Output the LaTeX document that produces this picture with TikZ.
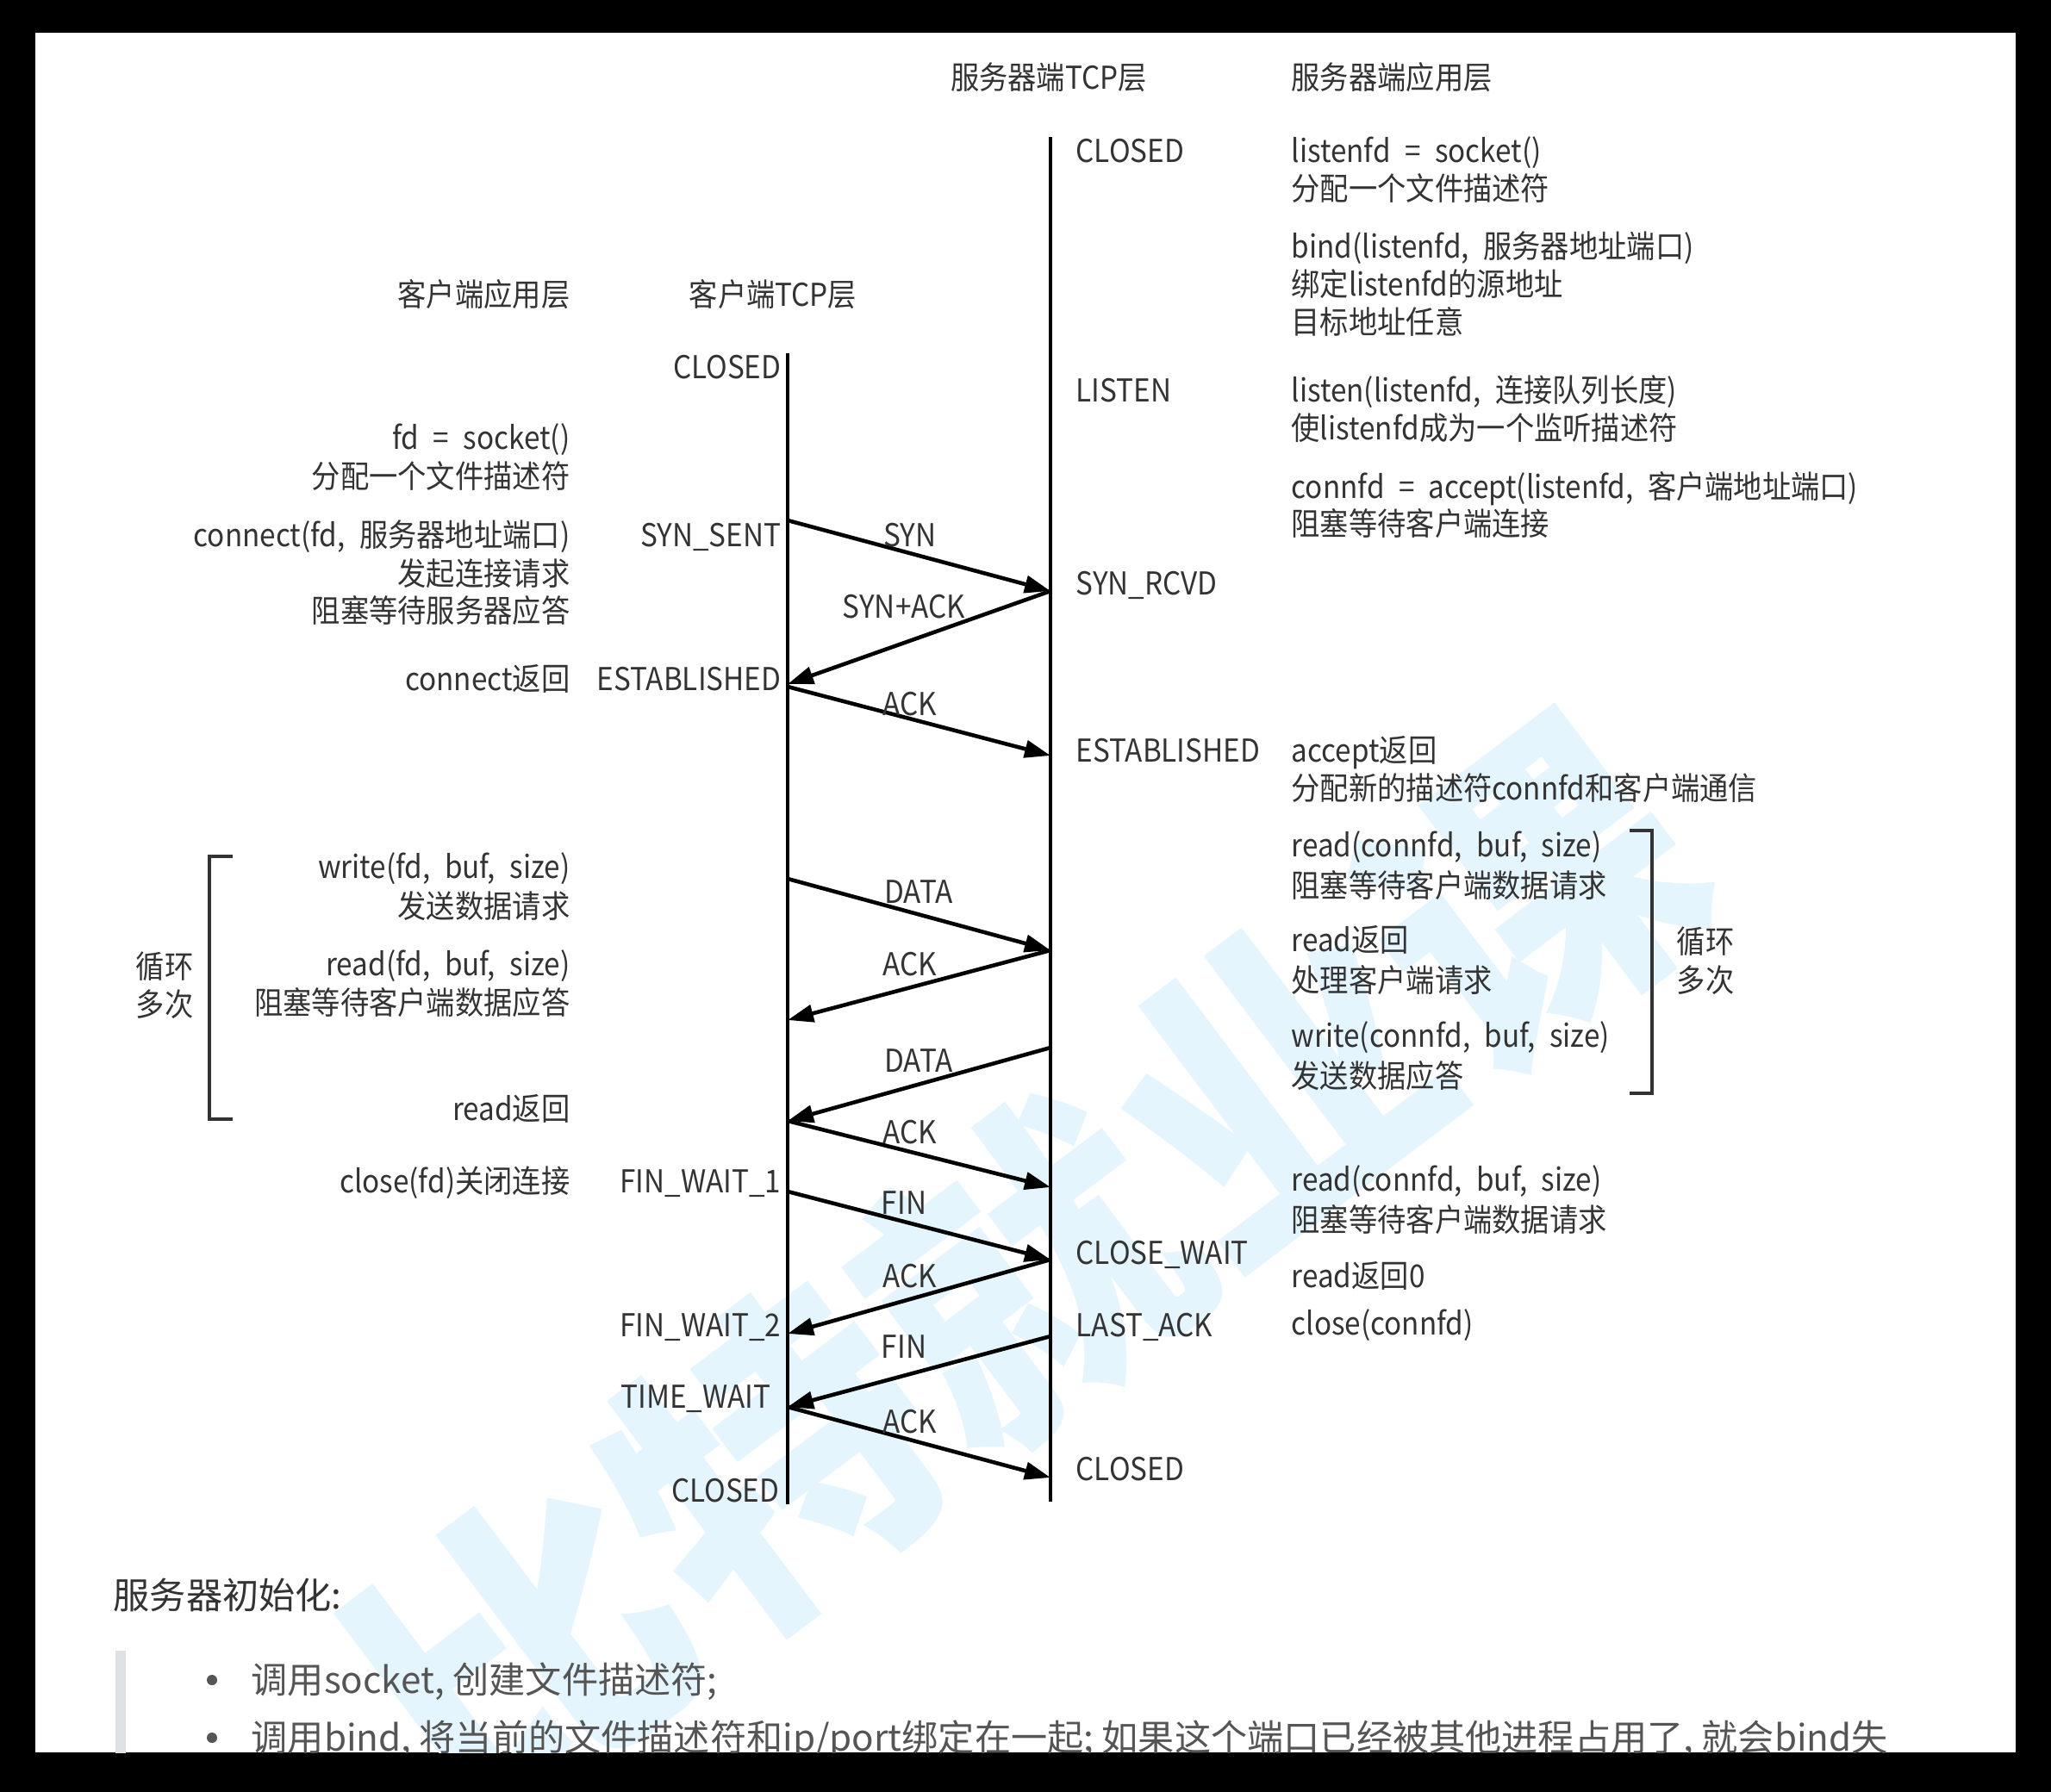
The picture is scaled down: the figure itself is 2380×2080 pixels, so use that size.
\documentclass[tikz,border=0pt]{standalone}
\usepackage{fontspec}
\setmainfont{Noto Sans CJK SC}
\newfontfamily\wmfont{Noto Sans CJK SC}
\newfontfamily\dgfont{Noto Sans CJK SC}[FakeStretch=0.91,WordSpace=2.2]
\usetikzlibrary{arrows.meta}
\definecolor{txt}{HTML}{333333}
\definecolor{bottxt}{HTML}{555555}
\definecolor{wm}{RGB}{228,245,253}
\definecolor{quotebar}{HTML}{DFE2E5}
\begin{document}
\begin{tikzpicture}[x=0.1mm,y=-0.1mm,
  lbl/.style={inner sep=0pt, font=\dgfont\fontsize{10.4}{12.5}\selectfont, text=txt},
  big/.style={inner sep=0pt, font=\fontsize{12}{14}\selectfont},
  msg/.style={line width=1.3pt, -{Triangle[length=3mm,width=2mm]}},
  life/.style={line width=1pt},
  brk/.style={line width=1.2pt, draw=txt},
]
\fill[black] (0,0) rectangle (2380,2080);
\fill[white] (41,38) rectangle (2339,2034);
\begin{scope}
\clip (41,38) rectangle (2339,2034);
% watermark
\node[rotate=37, text=wm, font=\wmfont\bfseries\fontsize{104}{104}\selectfont, inner sep=0pt] (wmark) at (1191,1478) {比特就业课};

% headers
\node[lbl, anchor=base] (hST) at (1217,104) {服务器端TCP层};
\node[lbl, anchor=base west] (hSA) at (1498,104) {服务器端应用层};
\node[lbl, anchor=base east] (hCA) at (662,356) {客户端应用层};
\node[lbl, anchor=base] (hCT) at (897,356) {客户端TCP层};

% lifelines
\coordinate (ct) at (914,410);
\coordinate (cb) at (914,1746);
\coordinate (st) at (1219,159);
\coordinate (sb) at (1219,1743);
\draw[life] (ct) -- (cb);
\draw[life] (st) -- (sb);

% message points
\coordinate (c1) at (914,604);
\coordinate (s1) at (1219,686);
\coordinate (c2) at (914,794);
\coordinate (c3) at (914,797);
\coordinate (s3) at (1219,877);
\coordinate (c4) at (914,1020);
\coordinate (s4) at (1219,1103);
\coordinate (c5) at (914,1184);
\coordinate (s6) at (1219,1216);
\coordinate (c6) at (914,1301);
\coordinate (s7) at (1219,1378);
\coordinate (c8) at (914,1383);
\coordinate (s8) at (1219,1462);
\coordinate (c9) at (914,1548);
\coordinate (s10) at (1219,1551);
\coordinate (c10) at (914,1633);
\coordinate (s11) at (1219,1715);

\draw[msg] (c1) -- (s1);
\draw[msg] (s1) -- (c2);
\draw[msg] (c3) -- (s3);
\draw[msg] (c4) -- (s4);
\draw[msg] (s4) -- (c5);
\draw[msg] (s6) -- (c6);
\draw[msg] (c6) -- (s7);
\draw[msg] (c8) -- (s8);
\draw[msg] (s8) -- (c9);
\draw[msg] (s10) -- (c10);
\draw[msg] (c10) -- (s11);

% message labels
\node[lbl, anchor=base] (m1) at (1056,634) {SYN};
\node[lbl, anchor=base] (m2) at (1049,717) {SYN+ACK};
\node[lbl, anchor=base] (m3) at (1056,830) {ACK};
\node[lbl, anchor=base] (m4) at (1066,1048) {DATA};
\node[lbl, anchor=base] (m5) at (1056,1132) {ACK};
\node[lbl, anchor=base] (m6) at (1066,1244) {DATA};
\node[lbl, anchor=base] (m7) at (1056,1327) {ACK};
\node[lbl, anchor=base] (m8) at (1049,1409) {FIN};
\node[lbl, anchor=base] (m9) at (1056,1494) {ACK};
\node[lbl, anchor=base] (m10) at (1049,1576) {FIN};
\node[lbl, anchor=base] (m11) at (1056,1663) {ACK};

% client states
\node[lbl, anchor=base east] (cs1) at (907,440) {CLOSED};
\node[lbl, anchor=base east] (cs2) at (907,635) {SYN\_SENT};
\node[lbl, anchor=base east] (cs3) at (907,801) {ESTABLISHED};
\node[lbl, anchor=base east] (cs4) at (907,1384) {FIN\_WAIT\_1};
\node[lbl, anchor=base east] (cs5) at (907,1551) {FIN\_WAIT\_2};
\node[lbl, anchor=base east] (cs6) at (895,1634) {TIME\_WAIT};
\node[lbl, anchor=base east] (cs7) at (905,1743) {CLOSED};

% server states
\node[lbl, anchor=base west] (ss1) at (1248,189) {CLOSED};
\node[lbl, anchor=base west] (ss2) at (1248,467) {LISTEN};
\node[lbl, anchor=base west] (ss3) at (1248,690) {SYN\_RCVD};
\node[lbl, anchor=base west] (ss4) at (1248,884) {ESTABLISHED};
\node[lbl, anchor=base west] (ss5) at (1248,1467) {CLOSE\_WAIT};
\node[lbl, anchor=base west] (ss6) at (1248,1551) {LAST\_ACK};
\node[lbl, anchor=base west] (ss7) at (1248,1718) {CLOSED};

% server application
\node[lbl, anchor=base west] (sa1) at (1498,189) {listenfd = socket()};
\node[lbl, anchor=base west] (sa2) at (1498,233) {分配一个文件描述符};
\node[lbl, anchor=base west] (sa3) at (1498,300) {bind(listenfd, 服务器地址端口)};
\node[lbl, anchor=base west] (sa4) at (1498,344) {绑定listenfd的源地址};
\node[lbl, anchor=base west] (sa5) at (1498,388) {目标地址任意};
\node[lbl, anchor=base west] (sa6) at (1498,467) {listen(listenfd, 连接队列长度)};
\node[lbl, anchor=base west] (sa7) at (1498,511) {使listenfd成为一个监听描述符};
\node[lbl, anchor=base west] (sa8) at (1498,579) {connfd = accept(listenfd, 客户端地址端口)};
\node[lbl, anchor=base west] (sa9) at (1498,622) {阻塞等待客户端连接};
\node[lbl, anchor=base west] (sa10) at (1498,884) {accept返回};
\node[lbl, anchor=base west] (sa11) at (1498,928) {分配新的描述符connfd和客户端通信};
\node[lbl, anchor=base west] (sa12) at (1498,994) {read(connfd, buf, size)};
\node[lbl, anchor=base west] (sa13) at (1498,1041) {阻塞等待客户端数据请求};
\node[lbl, anchor=base west] (sa14) at (1498,1104) {read返回};
\node[lbl, anchor=base west] (sa15) at (1498,1151) {处理客户端请求};
\node[lbl, anchor=base west] (sa16) at (1498,1215) {write(connfd, buf, size)};
\node[lbl, anchor=base west] (sa17) at (1498,1262) {发送数据应答};
\node[lbl, anchor=base west] (sa18) at (1498,1382) {read(connfd, buf, size)};
\node[lbl, anchor=base west] (sa19) at (1498,1429) {阻塞等待客户端数据请求};
\node[lbl, anchor=base west] (sa20) at (1498,1494) {read返回0};
\node[lbl, anchor=base west] (sa21) at (1498,1549) {close(connfd)};

% client application
\node[lbl, anchor=base east] (ca1) at (662,521) {fd = socket()};
\node[lbl, anchor=base east] (ca2) at (662,567) {分配一个文件描述符};
\node[lbl, anchor=base east] (ca3) at (662,634) {connect(fd, 服务器地址端口)};
\node[lbl, anchor=base east] (ca4) at (662,679) {发起连接请求};
\node[lbl, anchor=base east] (ca5) at (662,722) {阻塞等待服务器应答};
\node[lbl, anchor=base east] (ca6) at (662,801) {connect返回};
\node[lbl, anchor=base east] (ca7) at (662,1019) {write(fd, buf, size)};
\node[lbl, anchor=base east] (ca8) at (662,1065) {发送数据请求};
\node[lbl, anchor=base east] (ca9) at (662,1132) {read(fd, buf, size)};
\node[lbl, anchor=base east] (ca10) at (662,1177) {阻塞等待客户端数据应答};
\node[lbl, anchor=base east] (ca11) at (662,1300) {read返回};
\node[lbl, anchor=base east] (ca12) at (662,1384) {close(fd)关闭连接};

% loop brackets
\draw[brk] (270,994) -- (243,994) -- (243,1299) -- (270,1299);
\draw[brk] (1891,964) -- (1917,964) -- (1917,1269) -- (1891,1269);
\node[lbl, anchor=base] (lp1) at (191,1135) {循环};
\node[lbl, anchor=base] (lp2) at (191,1179) {多次};
\node[lbl, anchor=base] (rp1) at (1979,1106) {循环};
\node[lbl, anchor=base] (rp2) at (1979,1151) {多次};

% bottom text
\node[big, text=txt, anchor=base west] (head) at (131,1867) {服务器初始化:};
\fill[quotebar] (134,1916) rectangle (146,2040);
\fill[bottxt] (246,1950) circle (6);
\fill[bottxt] (246,2017) circle (6);
\node[big, text=bottxt, anchor=base west] (b1) at (291,1965) {调用socket, 创建文件描述符;};
\node[big, text=bottxt, anchor=base west] (b2) at (291,2032) {调用bind, 将当前的文件描述符和ip/port绑定在一起; 如果这个端口已经被其他进程占用了, 就会bind失};
\end{scope}
\end{tikzpicture}
\end{document}
